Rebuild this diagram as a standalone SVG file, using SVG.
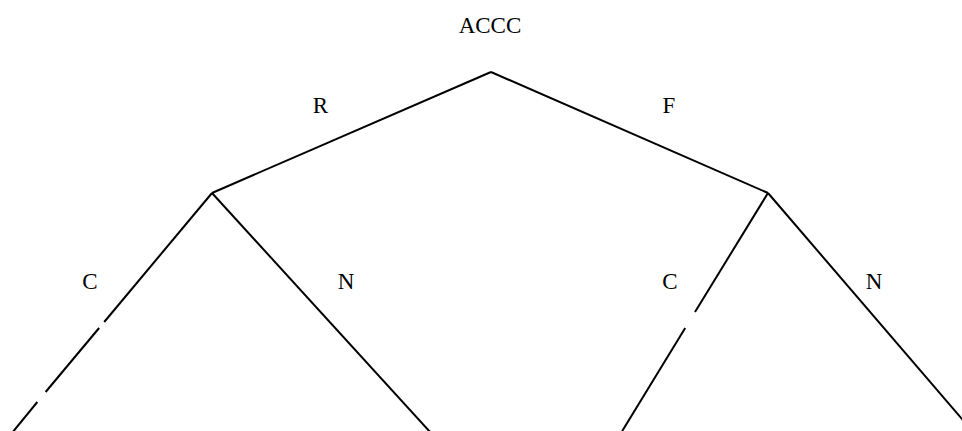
<svg xmlns="http://www.w3.org/2000/svg" width="962" height="431" viewBox="0 0 962 431">
<style>
.e{stroke:#000;stroke-width:2;fill:none;stroke-linecap:butt}
.t{font-family:"Liberation Serif","Times New Roman",serif;font-size:23px;fill:#000;text-anchor:middle}
</style>
<rect width="962" height="431" fill="#fff"/>
<g id="connectors">
<line class="e" x1="491" y1="72" x2="212" y2="193"/>
<line class="e" x1="491" y1="72" x2="768" y2="193"/>
<line class="e" x1="212" y1="193" x2="104.2" y2="322"/>
<line class="e" x1="99.1" y1="328" x2="45.6" y2="392"/>
<line class="e" x1="37.3" y1="402" x2="12" y2="433"/>
<line class="e" x1="212" y1="193" x2="431" y2="433"/>
<line class="e" x1="768" y1="193" x2="695" y2="312"/>
<line class="e" x1="685.2" y1="328" x2="621" y2="433"/>
<line class="e" x1="768" y1="193" x2="974" y2="433"/>
</g>
<g id="edge-labels">
<text class="t" x="320.5" y="113">R</text>
<text class="t" x="669" y="113">F</text>
<text class="t" x="90" y="289">C</text>
<text class="t" x="346" y="289">N</text>
<text class="t" x="670" y="289">C</text>
<text class="t" x="874" y="289">N</text>
</g>
<g id="root"><text class="t" x="490" y="33">ACCC</text></g>
</svg>
